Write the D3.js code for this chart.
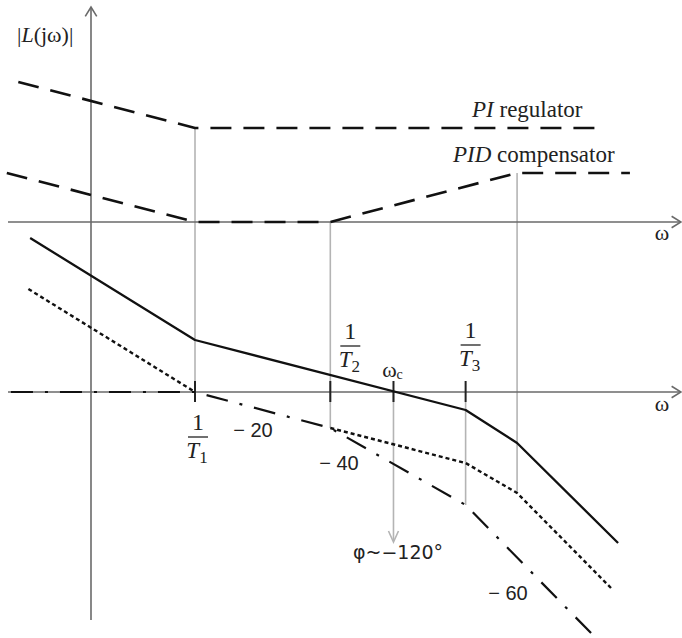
<!DOCTYPE html>
<html><head><meta charset="utf-8">
<script src="https://cdn.jsdelivr.net/npm/d3@7"></script>
<style>body{margin:0;background:#fff} svg{display:block}</style>
</head><body>
<script>
// Break frequencies (log-frequency axis)
const breaks = {T1: 10, T2: 200, wc: 810, T3: 4000, Tpid: 12500};
// PI regulator (upper panel, dB)
const piW  = [0.2, 10, 70000];
const piDb = [70, 47, 47];
// PID compensator (upper panel, dB)
const pidW  = [0.155, 10, 200, 12500, 152000];
const pidDb = [24.5, 0, 0, 24.5, 24.5];
// Compensated loop |L(jw)| (solid)
const lW  = [0.26, 10, 4000, 12500, 117000];
const lDb = [77, 26, -9, -25.5, -75.5];
// Dotted curve (two pieces)
const dotW1  = [0.25, 10];
const dotDb1 = [51.5, 0];
const dotW2  = [200, 4000, 12500, 100000];
const dotDb2 = [-18, -35.5, -50.5, -98];
// Dash-dot curve
const ddW  = [0.17, 10, 200, 4000, 67000];
const ddDb = [0, 0, -18, -56.5, -121.5];
// Slope labels
const slopeLabels = ["− 20", "− 40", "− 60"];

const W = 682, H = 638;
const svg = d3.select("body").append("svg").attr("width", W).attr("height", H);

const x = d3.scaleLog().domain([1, 1e5]).range([91, 611]);
const yTop = d3.scaleLinear().domain([0, 100]).range([222, 22]);
const yBot = d3.scaleLinear().domain([0, -120]).range([392, 632]);

const axisColor = "#6a6a6a", gridColor = "#b4b4b4";

function arrow(g, x1, y1, x2, y2) {
  g.append("line").attr("x1", x1).attr("y1", y1).attr("x2", x2).attr("y2", y2)
    .attr("stroke", axisColor).attr("stroke-width", 1.6);
  const a = Math.atan2(y2 - y1, x2 - x1), L = 11, s = 0.55;
  const pts = [[x2 - L*Math.cos(a - s), y2 - L*Math.sin(a - s)], [x2, y2], [x2 - L*Math.cos(a + s), y2 - L*Math.sin(a + s)]];
  g.append("polyline").attr("points", pts.map(p => p.join(",")).join(" "))
    .attr("fill", "none").attr("stroke", axisColor).attr("stroke-width", 1.6);
}

// gray guide lines
const guides = svg.append("g").attr("stroke", gridColor).attr("stroke-width", 1.6);
const gl = (w, y1, y2) => guides.append("line").attr("x1", x(w)).attr("x2", x(w)).attr("y1", y1).attr("y2", y2);
gl(breaks.T1, yTop(47), yBot(0));
gl(breaks.T2, yTop(0), yBot(-18));
gl(breaks.T3, yBot(-5), yBot(-56.5));
gl(breaks.Tpid, yTop(24.5), yBot(-50.5));
gl(breaks.wc, yBot(0), yBot(-74));
{
  const cx = x(breaks.wc), ty = yBot(-75);
  guides.append("polyline").attr("fill", "none")
    .attr("points", `${cx-5},${ty-11} ${cx},${ty} ${cx+5},${ty-11}`);
}

// axes
const ax = svg.append("g");
arrow(ax, 91, 620, 91, 7);
arrow(ax, 8, yTop(0), 681, yTop(0));
arrow(ax, 8, yBot(0), 681, yBot(0));

// ticks on lower axis
[breaks.T1, breaks.T2, breaks.wc, breaks.T3].forEach(w => {
  svg.append("line").attr("x1", x(w)).attr("x2", x(w)).attr("y1", yBot(0) - 11).attr("y2", yBot(0) + 10)
    .attr("stroke", "#222").attr("stroke-width", 2);
});

const lineTop = d3.line().x(d => x(d[0])).y(d => yTop(d[1]));
const lineBot = d3.line().x(d => x(d[0])).y(d => yBot(d[1]));
const zip = (a, b) => a.map((v, i) => [v, b[i]]);

function path(gen, data, dash, width) {
  svg.append("path").attr("d", gen(data)).attr("fill", "none").attr("stroke", "#111")
    .attr("stroke-width", width).attr("stroke-dasharray", dash).attr("stroke-linejoin", "round");
}
path(lineTop, zip(piW, piDb), "21,12", 2.6);
path(lineTop, zip(pidW, pidDb), "21,12", 2.6);
path(lineBot, zip(dotW1, dotDb1), "4,3", 2.4);
path(lineBot, zip(dotW2, dotDb2), "4,3", 2.4);
path(lineBot, zip(ddW, ddDb), "22,12,3,12", 2.2);
path(lineBot, zip(lW, lDb), null, 2.3);

// text
const serif = "'Liberation Serif', 'Times New Roman', serif";
const sans = "'Liberation Sans', Arial, sans-serif";

const t1 = svg.append("text").attr("x", 17).attr("y", 42).attr("font-family", serif).attr("font-size", 22).attr("fill", "#222");
t1.append("tspan").text("|");
t1.append("tspan").attr("font-style", "italic").text("L");
t1.append("tspan").text("(jω)|");

const pi = svg.append("text").attr("x", 472).attr("y", 117).attr("font-family", serif).attr("font-size", 23).attr("fill", "#222");
pi.append("tspan").attr("font-style", "italic").text("PI");
pi.append("tspan").text(" regulator");

const pid = svg.append("text").attr("x", 453).attr("y", 162).attr("font-family", serif).attr("font-size", 23).attr("fill", "#222");
pid.append("tspan").attr("font-style", "italic").text("PID");
pid.append("tspan").text(" compensator");

function frac(cx, yNum, sub) {
  svg.append("text").attr("x", cx).attr("y", yNum).attr("text-anchor", "middle")
    .attr("font-family", serif).attr("font-size", 24).attr("fill", "#222").text("1");
  svg.append("line").attr("x1", cx - 10).attr("x2", cx + 10).attr("y1", yNum + 7).attr("y2", yNum + 7)
    .attr("stroke", "#333").attr("stroke-width", 1.4);
  const t = svg.append("text").attr("x", cx - 1).attr("y", yNum + 28).attr("text-anchor", "middle")
    .attr("font-family", serif).attr("font-size", 23).attr("fill", "#222");
  t.append("tspan").attr("font-style", "italic").text("T");
  t.append("tspan").attr("font-size", 17).attr("dy", 5).text(sub);
}
frac(x(breaks.T1) + 3, 430, "1");
frac(x(breaks.T2) + 20, 339, "2");
frac(x(breaks.T3) + 5, 338, "3");

const wc = svg.append("text").attr("x", x(breaks.wc) - 1).attr("y", 377).attr("text-anchor", "middle")
  .attr("font-family", serif).attr("font-size", 22).attr("fill", "#222");
wc.append("tspan").text("ω");
wc.append("tspan").attr("font-size", 14).attr("dy", 2).text("c");

[[662, 240], [662, 411]].forEach(p => {
  svg.append("text").attr("x", p[0]).attr("y", p[1]).attr("text-anchor", "middle")
    .attr("font-family", serif).attr("font-size", 22).attr("fill", "#222").text("ω");
});

const slopePos = [[253, 437], [339, 470], [508, 600]];
slopeLabels.forEach((s, i) => {
  svg.append("text").attr("x", slopePos[i][0]).attr("y", slopePos[i][1]).attr("text-anchor", "middle")
    .attr("font-family", sans).attr("font-size", 20).attr("fill", "#222").text(s);
});

svg.append("text").attr("x", 398).attr("y", 559).attr("text-anchor", "middle").attr("font-family", "'DejaVu Sans', sans-serif").attr("font-size", 19)
  .attr("fill", "#222").text("φ~−120°");
</script>
</body></html>
